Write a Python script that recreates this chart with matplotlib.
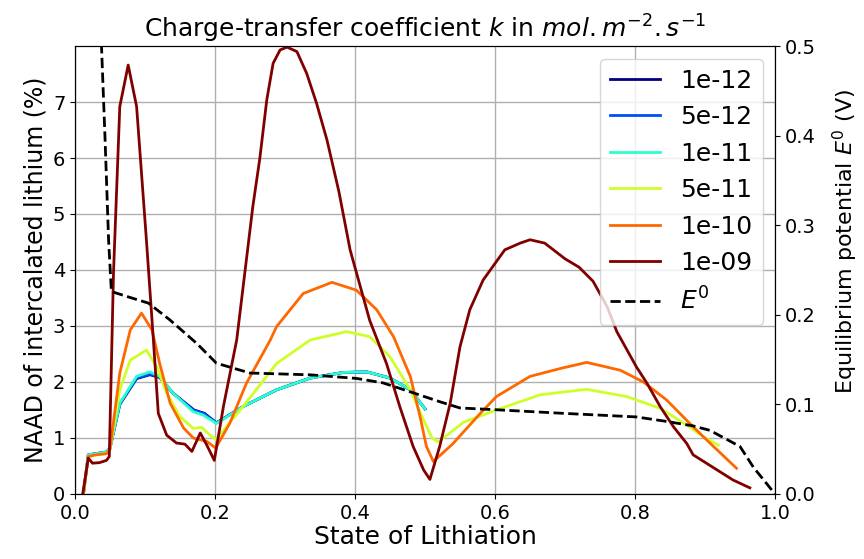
"""
NAAD of intercalated lithium vs state of lithiation, for several charge-transfer coefficients
"""

import numpy as np
import matplotlib
matplotlib.use('Agg')
import matplotlib.pyplot as plt

# values
labels = ['1e-12', '5e-12', '1e-11', '5e-11', '1e-10', '1e-09']

x_1e12 = [0.012, 0.019, 0.03, 0.045, 0.05, 0.064, 0.088, 0.107, 0.121, 0.14, 0.17, 0.185, 0.202,
          0.24, 0.288, 0.336, 0.383, 0.417, 0.45, 0.479, 0.5]
y_1e12 = [0, 0.7, 0.72, 0.75, 0.82, 1.6, 2.06, 2.13, 2.08, 1.8, 1.5, 1.44, 1.27,
          1.56, 1.86, 2.07, 2.17, 2.18, 2.07, 1.86, 1.52]

x_5e12 = [0.012, 0.019, 0.03, 0.045, 0.05, 0.064, 0.088, 0.107, 0.121, 0.14, 0.17, 0.185, 0.202,
          0.24, 0.288, 0.336, 0.383, 0.417, 0.45, 0.479, 0.5]
y_5e12 = [0, 0.7, 0.72, 0.75, 0.82, 1.61, 2.07, 2.14, 2.09, 1.8, 1.49, 1.43, 1.27,
          1.56, 1.86, 2.07, 2.17, 2.18, 2.07, 1.86, 1.52]

x_1e11 = [0.012, 0.019, 0.03, 0.045, 0.05, 0.064, 0.088, 0.107, 0.121, 0.14, 0.169, 0.183, 0.202,
          0.24, 0.288, 0.336, 0.383, 0.417, 0.45, 0.479, 0.5]
y_1e11 = [0, 0.7, 0.72, 0.75, 0.82, 1.62, 2.1, 2.18, 2.1, 1.8, 1.47, 1.41, 1.26,
          1.56, 1.86, 2.07, 2.17, 2.18, 2.07, 1.86, 1.52]

x_5e11 = [0.012, 0.019, 0.03, 0.045, 0.05, 0.064, 0.079, 0.102, 0.117, 0.131, 0.15, 0.169, 0.181,
          0.193, 0.201, 0.24, 0.288, 0.336, 0.388, 0.421, 0.45, 0.479, 0.498, 0.51, 0.519,
          0.555, 0.602, 0.664, 0.731, 0.788, 0.836, 0.874, 0.898, 0.919]
y_5e11 = [0, 0.67, 0.7, 0.72, 0.8, 1.86, 2.39, 2.57, 2.27, 1.8, 1.38, 1.17, 1.19,
          1.05, 0.97, 1.56, 2.33, 2.75, 2.9, 2.81, 2.45, 1.86, 1.32, 1.0, 0.93,
          1.28, 1.5, 1.77, 1.87, 1.74, 1.53, 1.23, 1.02, 0.87]

x_1e10 = [0.012, 0.019, 0.03, 0.045, 0.05, 0.064, 0.079, 0.095, 0.11, 0.121, 0.136, 0.155, 0.169,
          0.188, 0.201, 0.221, 0.245, 0.279, 0.288, 0.326, 0.367, 0.402, 0.431, 0.455, 0.479,
          0.493, 0.502, 0.512, 0.54, 0.579, 0.602, 0.65, 0.693, 0.731, 0.779, 0.812, 0.845,
          0.883, 0.912, 0.945]
y_1e10 = [0, 0.67, 0.7, 0.72, 0.8, 2.16, 2.93, 3.23, 2.93, 2.33, 1.62, 1.18, 1.0,
          0.94, 0.82, 1.26, 1.98, 2.75, 2.99, 3.58, 3.78, 3.64, 3.29, 2.81, 2.1,
          1.38, 0.85, 0.58, 0.9, 1.44, 1.74, 2.1, 2.24, 2.35, 2.21, 2.0, 1.68,
          1.2, 0.85, 0.46]

x_1e09 = [0.011, 0.019, 0.025, 0.035, 0.045, 0.049, 0.055, 0.064, 0.076, 0.088, 0.102, 0.112,
          0.119, 0.131, 0.145, 0.157, 0.167, 0.179, 0.188, 0.199, 0.212, 0.231, 0.254, 0.264,
          0.274, 0.283, 0.293, 0.303, 0.317, 0.331, 0.345, 0.36, 0.377, 0.393, 0.421, 0.445,
          0.464, 0.483, 0.498, 0.507, 0.521, 0.536, 0.55, 0.564, 0.583, 0.614, 0.636, 0.65,
          0.671, 0.70, 0.72, 0.74, 0.76, 0.774, 0.802, 0.817, 0.836, 0.855, 0.874, 0.883,
          0.902, 0.921, 0.94, 0.964]
y_1e09 = [0, 0.64, 0.55, 0.56, 0.6, 0.67, 3.95, 6.92, 7.66, 6.92, 4.54, 2.75,
          1.44, 1.05, 0.91, 0.89, 0.76, 1.09, 0.88, 0.6, 1.56, 2.75, 5.13, 5.99,
          7.04, 7.69, 7.93, 7.98, 7.9, 7.51, 6.98, 6.32, 5.4, 4.36, 3.1, 2.33,
          1.56, 0.85, 0.43, 0.26, 0.85, 1.62, 2.63, 3.29, 3.82, 4.36, 4.48, 4.54,
          4.48, 4.2, 4.05, 3.8, 3.35, 2.9, 2.27, 1.98, 1.56, 1.2, 0.9, 0.7,
          0.55, 0.4, 0.25, 0.11]

# equilibrium potential (V)
x_E0 = [0.034, 0.038, 0.043, 0.048, 0.052, 0.076, 0.105, 0.136, 0.174, 0.202, 0.25, 0.336,
        0.402, 0.44, 0.479, 0.521, 0.55, 0.602, 0.698, 0.802, 0.845, 0.883, 0.907, 0.95,
        0.969, 1.0]
E0 = [0.57, 0.497, 0.395, 0.283, 0.226, 0.22, 0.213, 0.194, 0.168, 0.146, 0.135, 0.133,
      0.129, 0.124, 0.114, 0.103, 0.096, 0.094, 0.09, 0.086, 0.081, 0.076, 0.071, 0.053,
      0.03, 0.0]

xs = [x_1e12, x_5e12, x_1e11, x_5e11, x_1e10, x_1e09]
ys = [y_1e12, y_5e12, y_1e11, y_5e11, y_1e10, y_1e09]
colors = plt.cm.jet(np.linspace(0, 1, len(labels)))

fig = plt.figure(figsize=(8.64, 5.59), dpi=100)
ax = fig.add_axes([0.0868, 0.1163, 0.8102, 0.8014])

for xx, yy, c, lab in zip(xs, ys, colors, labels):
    ax.plot(xx, yy, color=c, lw=2, label=lab)

ax.set_xlim(0, 1)
ax.set_ylim(0, 8)
ax.set_yticks(range(8))
ax.grid(True, color='#b0b0b0', lw=1)
ax.tick_params(labelsize=14)
ax.set_xlabel('State of Lithiation', fontsize=18, labelpad=2)
ax.set_ylabel('NAAD of intercalated lithium (%)', fontsize=17)
ax.set_title(r'Charge-transfer coefficient $k$ in $mol.m^{-2}.s^{-1}$', fontsize=18)

ax2 = ax.twinx()
ax2.plot(x_E0, E0, 'k--', lw=2, label=r'$E^0$')
ax2.set_ylim(0, 0.5)
ax2.tick_params(labelsize=14)
ax2.set_ylabel(r'Equilibrium potential $E^0$ (V)', fontsize=16)
ax2.yaxis.set_label_coords(1.08, 0.5625)

h1, l1 = ax.get_legend_handles_labels()
h2, l2 = ax2.get_legend_handles_labels()
ax2.legend(h1 + h2, l1 + l2, loc='upper right', fontsize=18)

plt.savefig('out.png', dpi=100)
